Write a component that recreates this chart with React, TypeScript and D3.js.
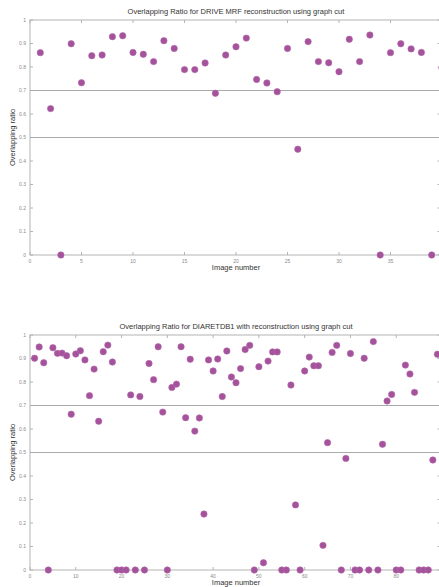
import { useRef, useEffect } from "react";
import * as d3 from "d3";

// DRIVE dataset, images 1..40
const driveRatios = [
  0.861, 0.623, 0, 0.899, 0.733, 0.848, 0.851, 0.929, 0.933, 0.862,
  0.854, 0.823, 0.912, 0.879, 0.789, 0.789, 0.817, 0.688, 0.851, 0.886,
  0.923, 0.747, 0.732, 0.695, 0.879, 0.45, 0.908, 0.823, 0.818, 0.78,
  0.918, 0.823, 0.936, 0, 0.861, 0.899, 0.877, 0.862, 0, 0.796,
];

// DIARETDB1 dataset, images 1..89
const diaretRatios = [
  0.901, 0.949, 0.882, 0, 0.946, 0.922, 0.923, 0.912, 0.663, 0.919,
  0.933, 0.894, 0.742, 0.855, 0.633, 0.929, 0.957, 0.885, 0, 0,
  0, 0.745, 0, 0.738, 0, 0.879, 0.81, 0.95, 0.672, 0,
  0.777, 0.791, 0.95, 0.648, 0.897, 0.591, 0.647, 0.238, 0.894, 0.847,
  0.898, 0.738, 0.932, 0.821, 0.797, 0.857, 0.938, 0.956, 0, 0.865,
  0.031, 0.889, 0.928, 0.928, 0, 0, 0.787, 0.277, 0, 0.847,
  0.906, 0.869, 0.869, 0.105, 0.542, 0.926, 0.956, 0, 0.475, 0.921,
  0, 0, 0.901, 0, 0.972, 0, 0.535, 0.719, 0.747, 0,
  0, 0.872, 0.834, 0.756, 0, 0, 0, 0.468, 0.918,
];

const yTicks = [0, 0.1, 0.2, 0.3, 0.4, 0.5, 0.6, 0.7, 0.8, 0.9, 1];
const driveXTicks = [0, 5, 10, 15, 20, 25, 30, 35, 40];
const diaretXTicks = [0, 10, 20, 30, 40, 50, 60, 70, 80, 90];
const refLines = [0.7, 0.5];

const charts = [
  {
    title: "Overlapping Ratio for DRIVE MRF reconstruction using graph cut",
    values: driveRatios,
    xMax: 40,
    xTicks: driveXTicks,
    top: 20,
    bottom: 255,
  },
  {
    title: "Overlapping Ratio for DIARETDB1 with reconstruction using graph cut",
    values: diaretRatios,
    xMax: 90,
    xTicks: diaretXTicks,
    top: 335,
    bottom: 570,
  },
];

const App = () => {
  const svgRef = useRef<SVGSVGElement>(null);

  useEffect(() => {
    const width = 439;
    const height = 587;
    const left = 30;
    const right = 442; // plot runs slightly past the picture edge
    const axisColor = "#b4b4b4";
    const textColor = "#8a8a8a";
    const dotColor = "#a4529b";
    const font = "'Liberation Sans', Arial, sans-serif";

    const svg = d3.select(svgRef.current);
    svg.selectAll("*").remove();
    svg.attr("width", width).attr("height", height);

    svg.append("rect").attr("width", width).attr("height", height).attr("fill", "#fff");

    charts.forEach((c) => {
      const x = d3.scaleLinear().domain([0, c.xMax]).range([left, right]);
      const y = d3.scaleLinear().domain([0, 1]).range([c.bottom, c.top]);
      const g = svg.append("g");

      // frame
      g.append("rect")
        .attr("x", left)
        .attr("y", c.top)
        .attr("width", right - left)
        .attr("height", c.bottom - c.top)
        .attr("fill", "none")
        .attr("stroke", axisColor)
        .attr("stroke-width", 1);

      // inward ticks on all sides
      const tl = 3;
      c.xTicks.forEach((t) => {
        g.append("line")
          .attr("x1", x(t)).attr("x2", x(t))
          .attr("y1", c.bottom).attr("y2", c.bottom - tl)
          .attr("stroke", axisColor);
        g.append("line")
          .attr("x1", x(t)).attr("x2", x(t))
          .attr("y1", c.top).attr("y2", c.top + tl)
          .attr("stroke", axisColor);
        // the last label falls outside the cropped picture
        if (x(t) < width - 6) {
          g.append("text")
            .attr("x", x(t))
            .attr("y", c.bottom + 8)
            .attr("text-anchor", "middle")
            .style("font-family", font)
            .style("font-size", "5px")
            .style("fill", textColor)
            .text(t);
        }
      });
      yTicks.forEach((t) => {
        g.append("line")
          .attr("x1", left).attr("x2", left + tl)
          .attr("y1", y(t)).attr("y2", y(t))
          .attr("stroke", axisColor);
        g.append("line")
          .attr("x1", right).attr("x2", right - tl * 1.5)
          .attr("y1", y(t)).attr("y2", y(t))
          .attr("stroke", axisColor);
        g.append("text")
          .attr("x", left - 4)
          .attr("y", y(t) + 1.7)
          .attr("text-anchor", "end")
          .style("font-family", font)
          .style("font-size", "5px")
          .style("fill", textColor)
          .text(t);
      });

      // threshold lines
      refLines.forEach((v) => {
        g.append("line")
          .attr("x1", left).attr("x2", right)
          .attr("y1", y(v)).attr("y2", y(v))
          .attr("stroke", "#aaa")
          .attr("stroke-width", 1);
      });

      // points
      g.selectAll("circle")
        .data(c.values)
        .join("circle")
        .attr("cx", (_d, i) => x(i + 1))
        .attr("cy", (d) => y(d))
        .attr("r", 3.2)
        .attr("fill", dotColor)
        .attr("stroke", "#b36aab")
        .attr("stroke-width", 0.6);

      // titles and labels
      g.append("text")
        .attr("x", (left + right) / 2)
        .attr("y", c.top - 6)
        .attr("text-anchor", "middle")
        .style("font-family", font)
        .style("font-size", "7.5px")
        .style("fill", "#333")
        .text(c.title);

      g.append("text")
        .attr("x", (left + right) / 2)
        .attr("y", c.bottom + 15)
        .attr("text-anchor", "middle")
        .style("font-family", font)
        .style("font-size", "7.5px")
        .style("fill", "#333")
        .text("Image number");

      g.append("text")
        .attr("transform", `translate(15, ${(c.top + c.bottom) / 2}) rotate(-90)`)
        .attr("text-anchor", "middle")
        .style("font-family", font)
        .style("font-size", "7.5px")
        .style("fill", "#333")
        .text("Overlapping ratio");
    });
  }, []);

  return (
    <svg
      ref={svgRef}
      style={{ position: "absolute", left: 0, top: 0, display: "block" }}
    ></svg>
  );
};

export default App;
